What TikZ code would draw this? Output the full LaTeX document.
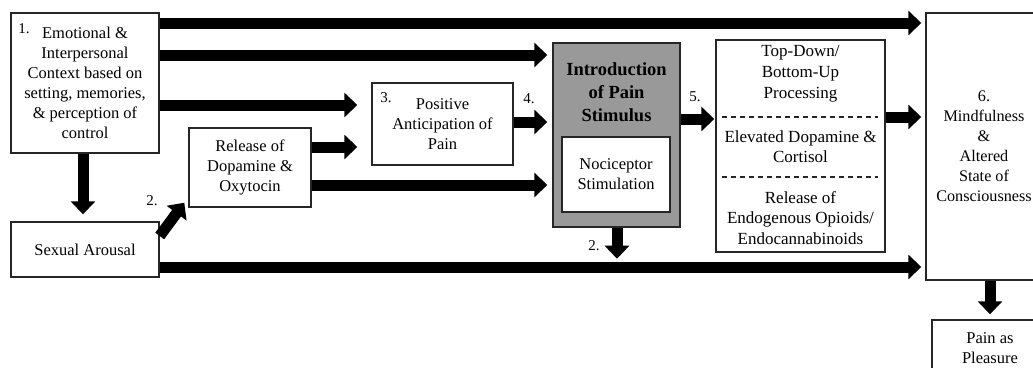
\documentclass[tikz,border=0pt]{standalone}
\usepackage{fontspec}
\setmainfont{Liberation Serif}
\usetikzlibrary{arrows.meta,calc}
\tikzset{
  box/.style={draw=black!85, line width=1.4pt, fill=white, inner sep=0pt, align=center,
    font=\fontsize{16.5}{20}\selectfont},
  numlbl/.style={inner sep=0pt, font=\fontsize{15}{18}\selectfont},
  fatarrow/.style={line width=11pt, -{Triangle[width=24pt,length=13pt]}},
}
\begin{document}
\begin{tikzpicture}[x=1pt,y=-1pt]
\useasboundingbox (0,0) rectangle (1033,367);
\fill[white] (0,0) rectangle (1033,367);
\clip (0,0) rectangle (1033,367);

% boxes
\node[box, minimum width=148pt, minimum height=140pt] (ctx) at (85,83)
  {Emotional \&\\Interpersonal\\Context based on\\setting, memories,\\\& perception of\\control};
\node[numlbl] (n1) at (24,29) {1.};
\node[box, minimum width=148pt, minimum height=55pt] (sa) at (85,249.5) {Sexual Arousal};
\node[box, minimum width=122pt, minimum height=79pt] (rd) at (250,167.5) {Release of\\Dopamine \&\\Oxytocin};
\node[box, minimum width=141pt, minimum height=82pt] (pa) at (442.5,124) {Positive\\Anticipation of\\Pain};
\node[numlbl] (n3) at (386,98) {3.};
\node[box, fill=black!40, minimum width=127pt, minimum height=184pt] (gb) at (616.5,135) {};
\node[inner sep=0pt, align=center, font=\fontsize{18.5}{23}\selectfont\bfseries] (ips) at (616.5,92)
  {Introduction\\of Pain\\Stimulus};
\node[box, minimum width=108pt, minimum height=75pt] (ns) at (616,174.5) {Nociceptor\\Stimulation};
\node[box, minimum width=169pt, minimum height=212pt] (td) at (800.5,146) {};
\node[inner sep=0pt, align=center, font=\fontsize{17}{21}\selectfont] (td1) at (800.5,74)
  {Top-Down/\\Bottom-Up\\Processing};
\node[inner sep=0pt, align=center, font=\fontsize{17}{20}\selectfont] (td2) at (800.5,147)
  {Elevated Dopamine \&\\Cortisol};
\node[inner sep=0pt, align=center, font=\fontsize{17}{20.5}\selectfont] (td3) at (800.5,218)
  {Release of\\Endogenous Opioids/\\Endocannabinoids};
\draw[black!85, line width=1.2pt, dash pattern=on 5pt off 4pt] ($(td.west)+(7,-29)$) coordinate (d1a) -- ($(td.east)+(-8,-29)$) coordinate (d1b);
\draw[black!85, line width=1.2pt, dash pattern=on 5pt off 4pt] ($(td.west)+(7,31)$) coordinate (d2a) -- ($(td.east)+(-8,31)$) coordinate (d2b);
\node[box, minimum width=116pt, minimum height=267pt, font=\fontsize{16.2}{20}\selectfont] (m6) at (984,146.5)
  {6.\\Mindfulness\\\&\\Altered\\State of\\Consciousness};
\node[box, minimum width=116pt, minimum height=56pt] (pp) at (990,348) {Pain as\\Pleasure};

% arrows
\draw[fatarrow, shorten >=4pt] (ctx.east |- 0,23) -- (m6.west |- 0,23);
\draw[fatarrow, shorten >=5pt] (ctx.east |- 0,55) -- (gb.west |- 0,55);
\draw[fatarrow, shorten >=14pt] (ctx.east |- 0,105) -- (pa.west |- 0,105);
\draw[fatarrow, shorten >=14pt] (rd.east |- 0,147) -- (pa.west |- 0,147);
\draw[fatarrow, shorten >=5pt] (rd.east |- 0,185) -- (gb.west |- 0,185);
\draw[fatarrow, shorten >=5pt] (pa.east |- 0,122) -- (gb.west |- 0,122);
\draw[fatarrow, shorten >=1pt] (gb.east |- 0,119) -- (td.west |- 0,119);
\draw[fatarrow, shorten >=4pt] (td.east |- 0,117) -- (m6.west |- 0,117);
\draw[fatarrow, shorten >=4pt] (sa.east |- 0,267) -- (m6.west |- 0,267);
\draw[fatarrow, shorten >=7pt] (ctx.south -| 83,0) -- (sa.north -| 83,0);
\coordinate (diagend) at ($(rd.south west)+(-4,-5)$);
\draw[fatarrow] (sa.east |- 0,236) -- (diagend);
\draw[fatarrow, shorten >=0pt] (gb.south -| 617,0) -- ++(0,31) coordinate (gbdown);
\draw[fatarrow, shorten >=5pt] (m6.south -| 990,0) -- (pp.north -| 990,0);

% number labels
\node[numlbl] (l2a) at (152,201) {2.};
\node[numlbl] (l4) at (529,99) {4.};
\node[numlbl] (l5) at (695,97) {5.};
\node[numlbl] (l2b) at (594,246) {2.};
\end{tikzpicture}
\end{document}
